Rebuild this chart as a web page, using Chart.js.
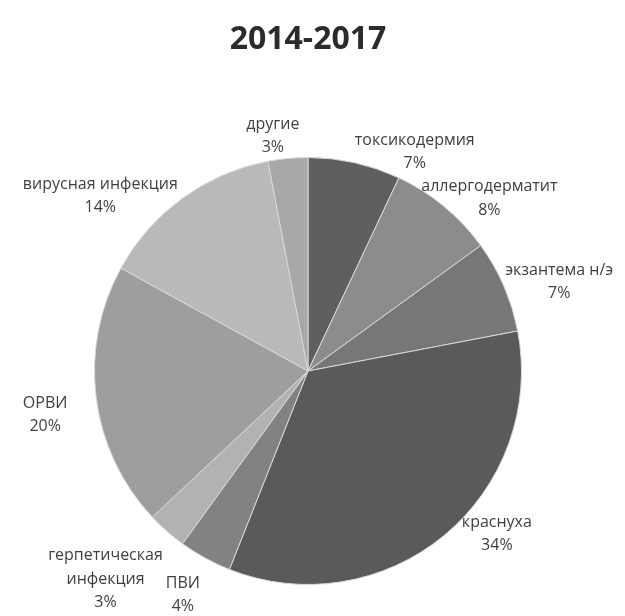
<!DOCTYPE html>
<html>
<head>
<meta charset="utf-8">
<script src="https://cdn.jsdelivr.net/npm/chart.js@4"></script>
<style>
  html, body { margin: 0; padding: 0; background: #fff; }
  #wrap { width: 625px; height: 616px; }
</style>
</head>
<body>
<div id="wrap"><canvas id="pieChart" width="625" height="616"></canvas></div>
<script>
// data (percent)
const labels = ['токсикодермия', 'аллергодерматит', 'экзантема н/э', 'краснуха', 'ПВИ',
                'герпетическая инфекция', 'ОРВИ', 'вирусная инфекция', 'другие'];
const values = [7, 8, 7, 34, 4, 3, 20, 14, 3];

// label lines as printed on the chart
const labelLines = [['токсикодермия'], ['аллергодерматит'], ['экзантема н/э'], ['краснуха'], ['ПВИ'],
                    ['герпетическая', 'инфекция'], ['ОРВИ'], ['вирусная инфекция'], ['другие']];

const colors = ['#5f5f5f', '#8c8c8c', '#777777', '#5a5a5a', '#828282',
                '#b2b2b2', '#9e9e9e', '#b9b9b9', '#a8a8a8'];

// label placement: angle shift (deg) and distance beyond the rim (px), like Excel "best fit"
const labelShift = [13.4, 6.8, 3.9, -9.6, 0.4, 2.8, -2.3, -13.9, -3.1];
const labelGap   = [30, 37, 53, 36, 43, 77, 53, 58, 24];

const outsideLabels = {
    id: 'outsideLabels',
    afterDatasetsDraw(chart) {
        const ctx = chart.ctx;
        const arcs = chart.getDatasetMeta(0).data;
        ctx.save();
        ctx.font = '16px "Open Sans"';
        ctx.fillStyle = '#3f3f3f';
        ctx.textAlign = 'center';
        ctx.textBaseline = 'middle';
        arcs.forEach((arc, i) => {
            const mid = (arc.startAngle + arc.endAngle) / 2 + labelShift[i] * Math.PI / 180;
            const d = arc.outerRadius + labelGap[i];
            const cx = arc.x + Math.cos(mid) * d;
            const cy = arc.y + Math.sin(mid) * d;
            const lines = labelLines[i].concat([values[i] + '%']);
            const lh = 23.5;
            const top = cy - (lines.length - 1) * lh / 2;
            lines.forEach((t, k) => ctx.fillText(t, cx, top + k * lh));
        });
        ctx.restore();
    }
};

new Chart(document.getElementById('pieChart'), {
    type: 'pie',
    data: {
        labels: labels,
        datasets: [{
            data: values,
            backgroundColor: colors,
            borderColor: '#d8d8d8',
            borderWidth: 1
        }]
    },
    options: {
        responsive: false,
        animation: false,
        layout: { padding: { left: 94, right: 103, top: 0, bottom: 31 } },
        plugins: {
            legend: { display: false },
            tooltip: { enabled: false },
            title: {
                display: true,
                text: '2014-2017',
                color: '#2b2b2b',
                font: { family: 'Open Sans', size: 32, weight: 'bold' },
                padding: { top: 21, bottom: 97.6 }
            }
        }
    },
    plugins: [outsideLabels]
});
</script>
</body>
</html>
